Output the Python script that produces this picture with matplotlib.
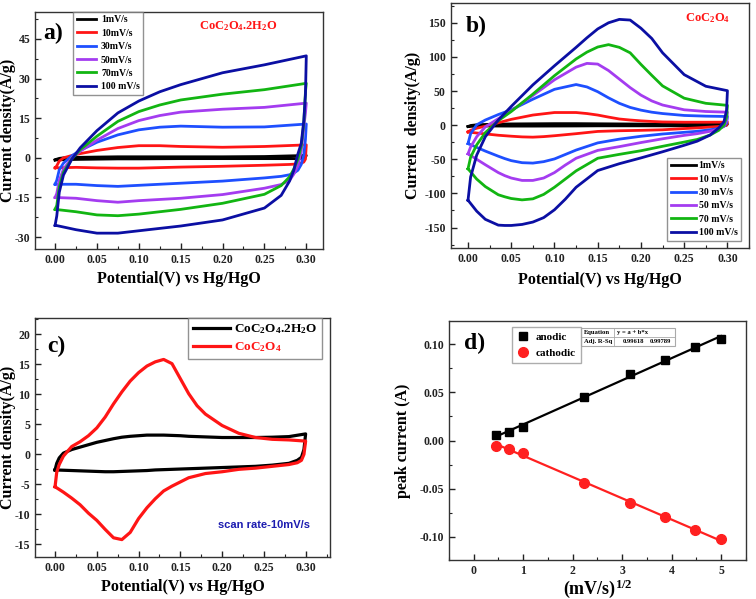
import matplotlib
matplotlib.use('Agg')
import matplotlib.pyplot as plt
import numpy as np
from matplotlib.patches import Rectangle
from matplotlib.ticker import MultipleLocator, FormatStrFormatter

plt.rcParams['font.family'] = ['Liberation Serif', 'DejaVu Serif']
plt.rcParams['font.weight'] = 'bold'
plt.rcParams['axes.unicode_minus'] = False
plt.rcParams['mathtext.fontset'] = 'custom'
plt.rcParams['mathtext.rm'] = 'Liberation Serif:bold'
plt.rcParams['mathtext.bf'] = 'Liberation Serif:bold'
plt.rcParams['mathtext.default'] = 'rm'

# ---------------- panel a) CoC2O4.2H2O, CV at different scan rates
a_labels = ['1mV/s', '10mV/s', '30mV/s', '50mV/s', '70mV/s', '100 mV/s']
a_v_fwd = [0.0, 0.002, 0.005, 0.01, 0.02, 0.03, 0.05, 0.075, 0.10, 0.125, 0.15, 0.20, 0.25, 0.30]
a_v_rev = [0.30, 0.299, 0.297, 0.294, 0.29, 0.285, 0.28, 0.27, 0.25, 0.20, 0.15, 0.10, 0.075, 0.05, 0.025, 0.0]
a_j_fwd = [
    [-0.8, -0.5, -0.2, 0.0, 0.1, 0.2, 0.3, 0.4, 0.4, 0.4, 0.4, 0.4, 0.5, 0.9],
    [-3.8, -3.0, -1.2, 0.0, 0.9, 1.6, 2.8, 3.9, 4.6, 4.6, 4.3, 4.0, 4.3, 4.9],
    [-10.0, -8.5, -4.5, -2.0, 0.8, 2.8, 5.9, 8.7, 10.6, 11.6, 12.0, 11.6, 11.7, 12.8],
    [-15.0, -13.5, -8.5, -4.3, 0.0, 2.5, 6.7, 11.1, 14.1, 16.0, 17.3, 18.4, 19.1, 20.7],
    [-19.5, -18.0, -11.0, -5.5, -0.4, 3.1, 8.2, 13.8, 17.5, 20.0, 21.9, 24.1, 25.8, 28.2],
    [-25.5, -22.0, -13.0, -6.5, -0.5, 3.8, 10.3, 17.0, 21.5, 25.0, 27.7, 32.2, 35.2, 38.6],
]
a_j_rev = [
    [0.9, 0.3, 0.0, -0.2, -0.3, -0.3, -0.3, -0.3, -0.3, -0.3, -0.3, -0.4, -0.4, -0.5, -0.6, -0.8],
    [4.9, -0.5, -1.6, -2.0, -2.2, -2.4, -2.5, -2.6, -2.8, -3.2, -3.5, -3.9, -3.9, -3.8, -3.6, -3.8],
    [12.8, 7.0, 1.0, -2.5, -4.7, -5.8, -6.4, -7.0, -7.6, -8.8, -9.6, -10.4, -10.8, -10.5, -10.0, -10.0],
    [20.7, 17.0, 11.5, 2.5, -3.0, -6.2, -8.5, -10.1, -11.5, -13.9, -15.3, -16.2, -16.8, -16.2, -15.3, -15.0],
    [28.2, 25.0, 13.0, 4.5, -0.5, -4.3, -7.2, -10.5, -13.8, -17.2, -19.5, -21.3, -21.9, -21.6, -20.4, -19.5],
    [38.6, 24.0, 14.0, 5.5, 1.5, -4.8, -8.8, -14.2, -19.0, -23.5, -25.8, -27.6, -28.5, -28.5, -27.2, -25.5],
]

# ---------------- panel b) CoC2O4, CV at different scan rates
b_labels = ['1mV/s', '10 mV/s', '30 mV/s', '50 mV/s', '70 mV/s', '100 mV/s']
b_v_fwd = [0.0, 0.003, 0.01, 0.02, 0.035, 0.05, 0.075, 0.10, 0.125, 0.1375, 0.15, 0.1625, 0.175, 0.1875,
           0.20, 0.2125, 0.225, 0.25, 0.275, 0.30]
b_v_rev = [0.30, 0.299, 0.296, 0.29, 0.28, 0.265, 0.25, 0.225, 0.20, 0.175, 0.15, 0.125, 0.1125, 0.10,
           0.0875, 0.075, 0.0625, 0.05, 0.0425, 0.035, 0.02, 0.01, 0.0]
b_j_fwd = [
    [-2, -0.5, 0.5, 1, 1.5, 1.8, 2, 2.2, 2.2, 2.1, 2, 1.9, 1.8, 1.7, 1.6, 1.55, 1.5, 1.5, 1.5, 1.5],
    [-10, -7.5, -4.5, -1.5, 3.5, 8.5, 14.8, 18.5, 18.5, 17, 14.8, 11.8, 9, 7.5, 6.3, 5.4, 4.7, 4.3, 4.3, 4.4],
    [-27, -12.5, 0.5, 7.5, 15.5, 22.5, 38, 52.5, 59.5, 56, 49, 40, 32, 26, 22, 19, 17, 14.2, 13.2, 12.7],
    [-42, -32, -17, -2.5, 9.5, 21, 43.5, 66.5, 85, 90.5, 89.5, 80, 67.5, 55, 44, 35.5, 29.5, 22.5, 20, 19],
    [-64, -47, -29, -11, 6.5, 20, 45.5, 72.5, 97, 107, 114.5, 118, 114, 106, 89, 73, 57.5, 39.5, 32, 29],
    [-110, -76, -44, -17, 7.5, 27.5, 59, 87, 114, 128, 141, 150, 155, 154, 142, 127, 106, 74, 57, 50.5],
]
b_j_rev = [
    [1.5, 0, -0.5, -0.8, -1, -1, -1, -1, -1, -1, -1, -1.2, -1.25, -1.3, -1.35, -1.4, -1.4, -1.4, -1.35, -1.3,
     -1.2, -1.5, -2],
    [4.4, 0, -1, -2, -2.8, -4, -5, -6.8, -7.6, -8.2, -9.2, -12.5, -14, -15.5, -16.8, -17.6, -17.2, -16.2,
     -15.5, -14.8, -12.8, -11.5, -10],
    [12.7, 3, -2, -4.8, -6.8, -9, -10.5, -13, -16.3, -20.5, -26, -36.5, -43, -49.5, -53.5, -55.6, -55, -52,
     -49, -45.5, -38, -32.5, -27],
    [19, 6, -1.5, -5.5, -9, -12.5, -15, -20, -25.5, -31.5, -37, -48.5, -58.5, -69.5, -77.5, -81, -81, -77.5,
     -74, -69.5, -58, -50, -42],
    [29, 12, 0, -7.5, -14.5, -21, -24.8, -31, -37.5, -42.8, -48.5, -67, -79, -91, -101.5, -108, -109.5,
     -107.5, -105, -102, -90, -79, -64],
    [50.5, 22, 5, -4, -14.5, -23.5, -29.5, -39, -48, -56.5, -66.5, -91, -108.5, -124, -135.5, -142, -145.5,
     -147, -147, -146.5, -138, -126, -110],
]

# ---------------- panel c) comparison at 10 mV/s
c_labels = [r'CoC$_2$O$_4$.2H$_2$O', r'CoC$_2$O$_4$']
c_v_fwd = [0.0, 0.002, 0.005, 0.01, 0.02, 0.03, 0.04, 0.05, 0.06, 0.07, 0.08, 0.09, 0.10, 0.11, 0.12,
           0.13, 0.14, 0.15, 0.16, 0.17, 0.18, 0.20, 0.22, 0.24, 0.26, 0.28, 0.30]
c_v_rev = [0.30, 0.298, 0.295, 0.29, 0.28, 0.26, 0.24, 0.22, 0.20, 0.18, 0.16, 0.14, 0.13, 0.12, 0.11,
           0.10, 0.09, 0.08, 0.07, 0.06, 0.05, 0.04, 0.03, 0.02, 0.01, 0.0]
c_j_fwd = [
    [-2.6, -1.5, -0.6, 0.2, 0.8, 1.2, 1.6, 2.0, 2.3, 2.6, 2.85, 3.0, 3.1, 3.2, 3.2, 3.2, 3.15, 3.1, 3.0,
     2.95, 2.9, 2.8, 2.8, 2.8, 2.85, 2.95, 3.4],
    [-5.4, -3.0, -1.7, -0.3, 1.3, 2.1, 3.1, 4.4, 6.2, 8.4, 10.4, 12.2, 13.6, 14.7, 15.4, 15.8, 15.1, 12.6,
     10.1, 8.1, 6.7, 4.8, 3.5, 2.8, 2.5, 2.4, 2.2],
]
c_j_rev = [
    [3.4, 0.8, -0.5, -1.0, -1.5, -1.8, -2.0, -2.1, -2.2, -2.3, -2.4, -2.5, -2.55, -2.6, -2.7, -2.75, -2.8,
     -2.85, -2.9, -2.9, -2.85, -2.8, -2.75, -2.7, -2.65, -2.6],
    [2.2, 0.0, -1.0, -1.4, -1.7, -2.0, -2.3, -2.5, -2.9, -3.2, -3.9, -5.3, -6.1, -7.4, -8.9, -10.7, -13.0,
     -14.2, -13.9, -12.5, -11.0, -9.8, -8.4, -7.3, -6.3, -5.4],
]

# ---------------- panel d) peak current vs sqrt(scan rate)
d_sqrt_rate = [0.45, 0.71, 1.0, 2.24, 3.16, 3.87, 4.47, 5.0]
d_anodic = [0.0057, 0.0092, 0.0137, 0.0456, 0.0687, 0.0840, 0.0972, 0.1055]
d_cathodic = [-0.0054, -0.0088, -0.0130, -0.0442, -0.0650, -0.0799, -0.0927, -0.1028]

rate_colors = ['#000000', '#ff1515', '#1e4fff', '#a43cf0', '#12b512', '#0b0fa3']
tick_fs = 8.5
label_fs = 11.5


def style_axes(ax):
    for s in ax.spines.values():
        s.set_color('#333333')
        s.set_linewidth(1.0)
    ax.tick_params(which='both', direction='in', top=False, right=False, labelsize=tick_fs, colors='#222222')
    ax.tick_params(which='major', length=4, width=1)
    ax.tick_params(which='minor', length=2.2, width=0.8)
    for t in ax.get_xticklabels() + ax.get_yticklabels():
        t.set_fontweight('bold')


fig = plt.figure(figsize=(7.56, 5.99), dpi=100)
ax_a = fig.add_axes([0.0463, 0.5843, 0.381, 0.3957])
ax_b = fig.add_axes([0.5962, 0.586, 0.3946, 0.409])
ax_c = fig.add_axes([0.0463, 0.0701, 0.390, 0.399])
ax_d = fig.add_axes([0.5939, 0.0646, 0.3925, 0.400])

# --- a
for lab, col, jf, jr in zip(a_labels, rate_colors, a_j_fwd, a_j_rev):
    ax_a.plot(a_v_fwd + a_v_rev, jf + jr, color=col, lw=2.0, label=lab, solid_joinstyle='round')
ax_a.set_xlim(-0.024, 0.32)
ax_a.set_ylim(-34.5, 55.2)
ax_a.xaxis.set_major_locator(MultipleLocator(0.05))
ax_a.xaxis.set_minor_locator(MultipleLocator(0.025))
ax_a.xaxis.set_major_formatter(FormatStrFormatter('%.2f'))
ax_a.set_yticks([-30, -15, 0, 15, 30, 45])
ax_a.yaxis.set_minor_locator(MultipleLocator(7.5))
ax_a.set_xlabel('Potential(V) vs Hg/HgO', fontsize=label_fs, fontweight='bold', labelpad=4)
ax_a.set_ylabel('Current density(A/g)', fontsize=label_fs, fontweight='bold', labelpad=-1)
ax_a.text(0.029, 0.91, 'a)', transform=ax_a.transAxes, fontsize=17, fontweight='bold', va='center')
ax_a.text(0.57, 0.94, r'CoC$_2$O$_4$.2H$_2$O', transform=ax_a.transAxes, fontsize=9, color='#ff1515',
          va='center')
ax_a.legend(loc='upper left', bbox_to_anchor=(0.133, 1.0), frameon=True, fancybox=False,
            edgecolor='#777777', borderaxespad=0, handlelength=2.0, labelspacing=0.45,
            borderpad=0.35, handletextpad=0.5, prop={'weight': 'bold', 'size': 7})
style_axes(ax_a)

# --- b
for lab, col, jf, jr in zip(b_labels, rate_colors, b_j_fwd, b_j_rev):
    ax_b.plot(b_v_fwd + b_v_rev, jf + jr, color=col, lw=2.0, label=lab, solid_joinstyle='round')
ax_b.set_xlim(-0.02, 0.325)
ax_b.set_ylim(-180, 179)
ax_b.xaxis.set_major_locator(MultipleLocator(0.05))
ax_b.xaxis.set_minor_locator(MultipleLocator(0.025))
ax_b.xaxis.set_major_formatter(FormatStrFormatter('%.2f'))
ax_b.set_yticks([-150, -100, -50, 0, 50, 100, 150])
ax_b.yaxis.set_minor_locator(MultipleLocator(25))
ax_b.set_xlabel('Potential(V) vs Hg/HgO', fontsize=label_fs, fontweight='bold', labelpad=5)
ax_b.set_ylabel('Current  density(A/g)', fontsize=label_fs, fontweight='bold', labelpad=2)
ax_b.text(0.049, 0.903, 'b)', transform=ax_b.transAxes, fontsize=17, fontweight='bold', va='center')
ax_b.text(0.784, 0.9375, r'CoC$_2$O$_4$', transform=ax_b.transAxes, fontsize=9, color='#ff1515',
          va='center')
ax_b.legend(loc='lower right', bbox_to_anchor=(0.973, 0.03), frameon=True, fancybox=False,
            edgecolor='#777777', borderaxespad=0, handlelength=2.6, labelspacing=0.45,
            borderpad=0.35, handletextpad=0.3, prop={'weight': 'bold', 'size': 7})
style_axes(ax_b)

# --- c
c_colors = ['#000000', '#ff1515']
for lab, col, jf, jr in zip(c_labels, c_colors, c_j_fwd, c_j_rev):
    ax_c.plot(c_v_fwd + c_v_rev, jf + jr, color=col, lw=2.3, label=lab, solid_joinstyle='round')
ax_c.set_xlim(-0.024, 0.329)
ax_c.set_ylim(-17.1, 22.7)
ax_c.xaxis.set_major_locator(MultipleLocator(0.05))
ax_c.xaxis.set_minor_locator(MultipleLocator(0.025))
ax_c.xaxis.set_major_formatter(FormatStrFormatter('%.2f'))
ax_c.yaxis.set_major_locator(MultipleLocator(5))
ax_c.yaxis.set_minor_locator(MultipleLocator(2.5))
ax_c.set_xlabel('Potential(V) vs Hg/HgO', fontsize=label_fs, fontweight='bold', labelpad=4)
ax_c.set_ylabel('Current density(A/g)', fontsize=label_fs, fontweight='bold', labelpad=-1)
ax_c.text(0.04, 0.88, 'c)', transform=ax_c.transAxes, fontsize=17, fontweight='bold', va='center')
ax_c.text(0.62, 0.134, 'scan rate-10mV/s', transform=ax_c.transAxes, fontsize=8, color='#1c1cb0',
          va='center', family='Liberation Sans', fontweight='bold')
leg_c = ax_c.legend(loc='upper right', bbox_to_anchor=(0.972, 1.0), frameon=True, fancybox=False,
                    edgecolor='#777777', borderaxespad=0, handlelength=2.8, labelspacing=0.3,
                    borderpad=0.35, handletextpad=0.3, prop={'weight': 'bold', 'size': 9.5})
for txt, col in zip(leg_c.get_texts(), c_colors):
    txt.set_color(col)
style_axes(ax_c)

# --- d
fit_a = np.polyfit(d_sqrt_rate, d_anodic, 1)
fit_c = np.polyfit(d_sqrt_rate, d_cathodic, 1)
xs = np.array([d_sqrt_rate[0], d_sqrt_rate[-1]])
ax_d.plot(xs, np.polyval(fit_a, xs), color='#000000', lw=1.6)
ax_d.plot(xs, np.polyval(fit_c, xs), color='#ff2020', lw=1.6)
ax_d.plot(d_sqrt_rate, d_anodic, 's', color='#000000', ms=6, label='anodic')
ax_d.plot(d_sqrt_rate, d_cathodic, 'o', color='#ff2020', ms=7, label='cathodic')
ax_d.set_xlim(-0.5, 5.5)
ax_d.set_ylim(-0.1245, 0.1245)
ax_d.xaxis.set_major_locator(MultipleLocator(1))
ax_d.xaxis.set_minor_locator(MultipleLocator(0.5))
ax_d.yaxis.set_major_locator(MultipleLocator(0.05))
ax_d.yaxis.set_minor_locator(MultipleLocator(0.025))
ax_d.yaxis.set_major_formatter(FormatStrFormatter('%.2f'))
ax_d.set_xlabel(r'(mV/s)$^{1/2}$', fontsize=13, fontweight='bold', labelpad=0)
ax_d.set_ylabel('peak current (A)', fontsize=label_fs, fontweight='bold', labelpad=6)
ax_d.text(0.05, 0.906, 'd)', transform=ax_d.transAxes, fontsize=17, fontweight='bold', va='center')
ax_d.legend(loc='upper left', bbox_to_anchor=(0.212, 0.974), frameon=True, fancybox=False,
            edgecolor='#999999', borderaxespad=0, handlelength=1.0, labelspacing=0.5,
            borderpad=0.5, handletextpad=0.6, prop={'weight': 'bold', 'size': 8})
# fit summary box
ax_d.add_patch(Rectangle((0.445, 0.894), 0.317, 0.076, transform=ax_d.transAxes, fill=False,
                         edgecolor='#aaaaaa', lw=0.8))
ax_d.plot([0.556, 0.556], [0.894, 0.970], transform=ax_d.transAxes, color='#aaaaaa', lw=0.6)
ax_d.plot([0.445, 0.762], [0.933, 0.933], transform=ax_d.transAxes, color='#aaaaaa', lw=0.6)
ax_d.text(0.455, 0.951, 'Equation', transform=ax_d.transAxes, fontsize=4.8, va='center')
ax_d.text(0.565, 0.951, 'y = a + b*x', transform=ax_d.transAxes, fontsize=4.8, va='center')
ax_d.text(0.455, 0.913, 'Adj. R-Sq', transform=ax_d.transAxes, fontsize=4.8, va='center')
ax_d.text(0.586, 0.913, '0.99618', transform=ax_d.transAxes, fontsize=4.8, va='center')
ax_d.text(0.677, 0.913, '0.99789', transform=ax_d.transAxes, fontsize=4.8, va='center')
style_axes(ax_d)

fig.savefig('out.png', dpi=100)
